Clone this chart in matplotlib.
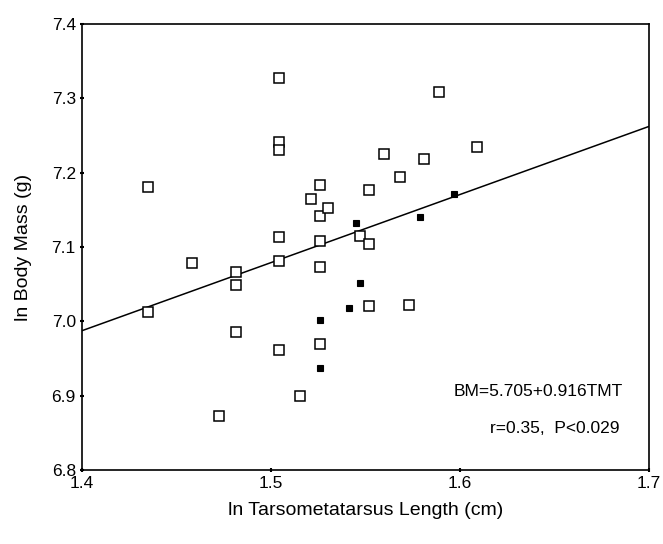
import matplotlib
matplotlib.use("Agg")
import matplotlib.pyplot as plt
import numpy as np

plt.rcParams['font.family'] = ['Liberation Sans', 'DejaVu Sans']

# open squares
tmt_open = [1.435, 1.435, 1.458, 1.4815, 1.4815, 1.4815, 1.4726, 1.504, 1.504,
            1.504, 1.504, 1.504, 1.504, 1.5153, 1.521, 1.526, 1.526, 1.526,
            1.526, 1.526, 1.530, 1.5473, 1.552, 1.552, 1.552, 1.560, 1.568,
            1.573, 1.581, 1.589, 1.609]
bm_open = [7.181, 7.012, 7.079, 7.067, 7.049, 6.986, 6.873, 7.327, 7.241,
           7.231, 7.113, 7.081, 6.961, 6.899, 7.164, 7.183, 7.141, 7.108,
           7.073, 6.969, 7.153, 7.115, 7.104, 7.176, 7.020, 7.225, 7.194,
           7.022, 7.218, 7.309, 7.235]

# filled squares
tmt_fill = [1.526, 1.526, 1.541, 1.5452, 1.547, 1.579, 1.597]
bm_fill = [7.002, 6.937, 7.018, 7.132, 7.051, 7.140, 7.171]

# regression BM = a + b*TMT
a, b = 5.705, 0.916

fig = plt.figure(figsize=(6.63, 5.44), dpi=100)
ax = fig.add_axes([0.1237, 0.136, 0.979 - 0.1237, 0.956 - 0.136])

xl = np.array([1.4, 1.7])
ax.plot(xl, a + b * xl, color='black', lw=1.1, zorder=2)
ax.plot(tmt_open, bm_open, 's', ms=6.5, mfc='white', mec='black', mew=1.1, zorder=3)
ax.plot(tmt_fill, bm_fill, 's', ms=5, mfc='black', mec='black', mew=0.8, zorder=3)

ax.set_xlim(1.4, 1.7)
ax.set_ylim(6.8, 7.4)
ax.set_xticks([1.4, 1.5, 1.6, 1.7])
ax.set_yticks([6.8, 6.9, 7.0, 7.1, 7.2, 7.3, 7.4])
ax.set_xticklabels(['1.4', '1.5', '1.6', '1.7'])
ax.set_yticklabels(['6.8', '6.9', '7.0', '7.1', '7.2', '7.3', '7.4'])
ax.tick_params(direction='inout', length=3, width=1.5, labelsize=12.5, pad=3)
for s in ax.spines.values():
    s.set_linewidth(1.2)

ax.set_xlabel('ln Tarsometatarsus Length (cm)', fontsize=14, labelpad=8)
ax.set_ylabel('ln Body Mass (g)', fontsize=14, labelpad=14)

ax.text(0.954, 0.175, 'BM=5.705+0.916TMT', transform=ax.transAxes,
        ha='right', va='center', fontsize=12.5)
ax.text(0.947, 0.094, 'r=0.35,  P<0.029', transform=ax.transAxes,
        ha='right', va='center', fontsize=12.5)

fig.savefig('out.png', dpi=100)
